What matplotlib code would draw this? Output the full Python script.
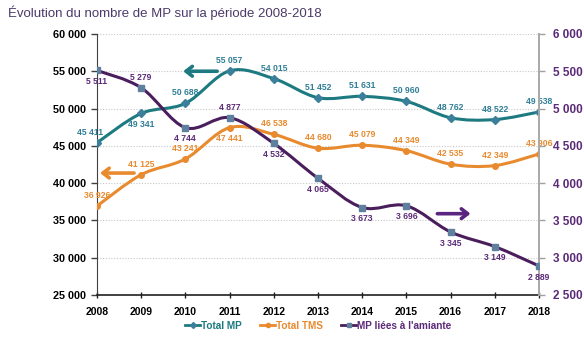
import matplotlib
matplotlib.use("Agg")
import matplotlib.pyplot as plt
from matplotlib.path import Path
from matplotlib.patches import PathPatch
from matplotlib.lines import Line2D

plt.rcParams['font.family'] = ['Liberation Sans', 'DejaVu Sans']

years = [2008, 2009, 2010, 2011, 2012, 2013, 2014, 2015, 2016, 2017, 2018]
total_mp = [45411, 49341, 50688, 55057, 54015, 51452, 51631, 50960, 48762, 48522, 49538]
total_tms = [36926, 41125, 43241, 47441, 46538, 44680, 45079, 44349, 42535, 42349, 43906]
mp_amiante = [5511, 5279, 4744, 4877, 4532, 4065, 3673, 3696, 3345, 3149, 2889]

# où placer chaque étiquette : 'a' au-dessus, 'b' en dessous
pos_mp = ['al', 'b', 'a', 'a', 'a', 'a', 'a', 'a', 'a', 'a', 'a']
pos_tms = ['a', 'a', 'a', 'b', 'a', 'a', 'a', 'a', 'a', 'a', 'a']
pos_am = ['b', 'a', 'b', 'a', 'b', 'b', 'b', 'b', 'b', 'b', 'b']

C_MP = '#1d7a80'
C_TMS = '#e88a2e'
C_AM = '#4a1e5c'
C_AM_LBL = '#5b2a78'


def fmt(v):
    return f"{v:,}".replace(',', ' ')


def smooth_path(xs, ys):
    # courbe lissée façon Excel : Bézier cubiques (Catmull-Rom)
    pts = list(zip(xs, ys))
    verts = [pts[0]]
    codes = [Path.MOVETO]
    n = len(pts)
    for i in range(n - 1):
        p0 = pts[i - 1] if i > 0 else pts[i]
        p1 = pts[i]
        p2 = pts[i + 1]
        p3 = pts[i + 2] if i + 2 < n else pts[i + 1]
        c1 = (p1[0] + (p2[0] - p0[0]) / 6, p1[1] + (p2[1] - p0[1]) / 6)
        c2 = (p2[0] - (p3[0] - p1[0]) / 6, p2[1] - (p3[1] - p1[1]) / 6)
        verts += [c1, c2, p2]
        codes += [Path.CURVE4] * 3
    return Path(verts, codes)


def draw_series(ax, ys, color, marker, mfc, ms, lblcolor, pos):
    ax.add_patch(PathPatch(smooth_path(years, ys), fill=False, edgecolor=color, lw=2.2, zorder=3))
    ax.plot(years, ys, ls='none', marker=marker, ms=ms, mfc=mfc, mec=mfc, zorder=4)
    for x, y, p in zip(years, ys, pos):
        dx = -5 if p == 'al' else 0
        dy = 7.5 if p.startswith('a') else -8
        ax.annotate(fmt(y), (x, y), xytext=(dx, dy), textcoords='offset points',
                    ha='center', va='center', fontsize=6.2, fontweight='bold',
                    color=lblcolor, zorder=5)


fig = plt.figure(figsize=(5.84, 3.43), dpi=100)
ax = fig.add_axes([0.166, 0.140, 0.757, 0.761])
ax2 = ax.twinx()

ax.set_xlim(2008, 2018)
ax.set_ylim(25000, 60000)
ax2.set_ylim(2500, 6000)
ax.set_yticks(range(25000, 60001, 5000))
ax2.set_yticks(range(2500, 6001, 500))
ax.set_xticks(years)

ax.grid(axis='y', color='#c8c8c8', ls=(0, (1, 1.5)), lw=0.8)
ax.set_axisbelow(True)

ax.set_yticklabels([fmt(v) for v in range(25000, 60001, 5000)], fontsize=7.8, fontweight='bold')
ax2.set_yticklabels([fmt(v) for v in range(2500, 6001, 500)], fontsize=8.5, fontweight='bold', color=C_AM_LBL)
ax.set_xticklabels([str(y) for y in years], fontsize=7.5, fontweight='bold')

ax.tick_params(axis='y', length=4, width=1, direction='out', pad=4, color='#404040')
ax2.tick_params(axis='y', length=4, width=1, direction='out', pad=6, color='#a0a0a0')
ax.tick_params(axis='x', length=4, width=1, direction='inout', pad=7, color='#202020')

for sp in ['top']:
    ax.spines[sp].set_visible(False)
    ax2.spines[sp].set_visible(False)
ax.spines['left'].set_color('#404040')
ax.spines['bottom'].set_color('#202020')
ax.spines['bottom'].set_linewidth(1.2)
ax2.spines['right'].set_color('#a8a8a8')
ax2.spines['right'].set_linewidth(1.4)
ax2.spines['left'].set_visible(False)
ax2.spines['bottom'].set_visible(False)
ax.spines['right'].set_visible(False)

draw_series(ax, total_mp, C_MP, 'D', '#3b7f9a', 4, '#2f7f96', pos_mp)
draw_series(ax, total_tms, C_TMS, 'o', C_TMS, 4, C_TMS, pos_tms)
draw_series(ax2, mp_amiante, C_AM, 's', '#5f7f9e', 4.2, C_AM_LBL, pos_am)

# flèches indiquant l'axe de lecture de chaque courbe
arrow = dict(arrowstyle='->,head_length=0.45,head_width=0.35', lw=2.6, shrinkA=0, shrinkB=0)
ax.annotate('', xy=(2009.95, 55000), xytext=(2010.72, 55000),
            arrowprops=dict(arrow, color=C_MP), zorder=6)
ax.annotate('', xy=(2008.07, 41350), xytext=(2008.84, 41350),
            arrowprops=dict(arrow, color=C_TMS), zorder=6)
ax2.annotate('', xy=(2016.45, 3590), xytext=(2015.7, 3590),
             arrowprops=dict(arrow, color='#5a2580'), zorder=6)

fig.text(0.014, 0.963, "Évolution du nombre de MP sur la période 2008-2018",
         fontsize=9.5, color='#4b3a6a', ha='left', va='center')

handles = [
    Line2D([], [], color=C_MP, lw=2, marker='D', ms=3, mfc='#3b7f9a', mec='#3b7f9a'),
    Line2D([], [], color=C_TMS, lw=2, marker='o', ms=3, mfc=C_TMS, mec=C_TMS),
    Line2D([], [], color=C_AM, lw=2, marker='s', ms=3, mfc='#5f7f9e', mec='#5f7f9e'),
]
labels = ['Total MP', 'Total TMS', "MP liées à l'amiante"]
leg = fig.legend(handles, labels, loc='center', bbox_to_anchor=(0.545, 0.05), ncol=3,
                 frameon=False, handlelength=1.5, handletextpad=0.1,
                 columnspacing=1.8, prop={'weight': 'bold', 'size': 7.2})
for t, c in zip(leg.get_texts(), [C_MP, C_TMS, C_AM_LBL]):
    t.set_color(c)

fig.savefig('out.png', dpi=100)
